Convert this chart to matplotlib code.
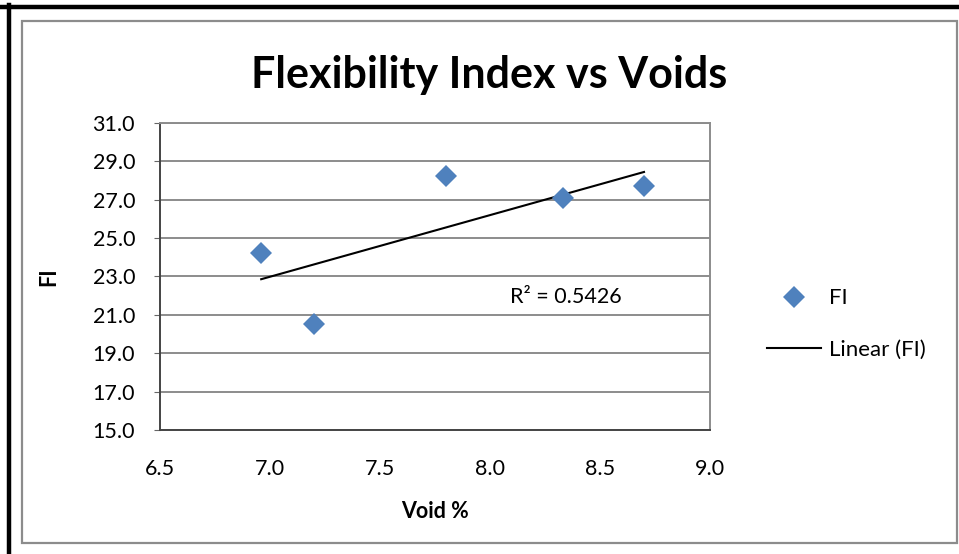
import numpy as np
import matplotlib.pyplot as plt
from matplotlib.lines import Line2D
from matplotlib.patches import Rectangle

# void content (%) and flexibility index
voids = [6.96, 7.20, 7.80, 8.33, 8.70]
fi = [24.2, 20.5, 28.2, 27.1, 27.7]
r2_text = "R² = 0.5426"

xticks = [6.5, 7.0, 7.5, 8.0, 8.5, 9.0]
yticks = [15, 17, 19, 21, 23, 25, 27, 29, 31]

plt.rcParams['font.family'] = ['Lato', 'DejaVu Sans']

W, H = 959, 554
fig = plt.figure(figsize=(W / 100, H / 100), dpi=100)

# frame around the chart
fig.add_artist(Line2D([0, 1], [1 - 7 / H, 1 - 7 / H], color='black', lw=3.2))
fig.add_artist(Line2D([9 / W, 9 / W], [0, 1 - 5 / H], color='black', lw=3.2))
fig.add_artist(Rectangle((22 / W, (H - 543) / H), 935 / W, 522 / H,
                         fill=False, ec='#8c8c8c', lw=1.6))

ax = fig.add_axes([160 / W, (H - 430) / H, 550 / W, 307.3 / H])

ax.plot(voids, fi, 'D', color='#4F81BD', markersize=11, mew=0, label='FI', zorder=3)

# linear trend line over the data range
m, b = np.polyfit(voids, fi, 1)
xs = np.array([min(voids), max(voids)])
ax.plot(xs, m * xs + b, color='black', lw=1.5, label='Linear (FI)', zorder=2)

ax.text(8.09, 21.9, r2_text, fontsize=15.5, va='center', ha='left')

ax.set_xlim(6.5, 9.0)
ax.set_ylim(15, 31)
ax.set_xticks(xticks)
ax.set_yticks(yticks)
ax.set_xticklabels([f"{t:.1f}" for t in xticks], fontsize=15.5)
ax.set_yticklabels([f"{t:.1f}" for t in yticks], fontsize=15.5)
ax.tick_params(axis='x', length=0, pad=21)
ax.tick_params(axis='y', length=4, pad=14, color='#666666')
ax.grid(axis='y', color='#8c8c8c', lw=1.4)
ax.set_axisbelow(True)
for side in ['top', 'right']:
    ax.spines[side].set_color('#8c8c8c')
    ax.spines[side].set_linewidth(1.4)
for side in ['left', 'bottom']:
    ax.spines[side].set_color('#444444')
    ax.spines[side].set_linewidth(1.4)

ax.set_xlabel('Void %', fontsize=15.5, fontweight='bold', labelpad=16)
ax.set_ylabel('FI', fontsize=15.5, fontweight='bold', labelpad=24)

fig.text(489 / W, 1 - 75 / H, 'Flexibility Index vs Voids', fontsize=31,
         fontweight='bold', ha='center', va='center')

ax.legend(loc='center left', bbox_to_anchor=(1.068, 0.345), frameon=False,
          fontsize=16, labelspacing=1.4, handlelength=2.4, handletextpad=0.35)

fig.savefig('out.png', dpi=100)
